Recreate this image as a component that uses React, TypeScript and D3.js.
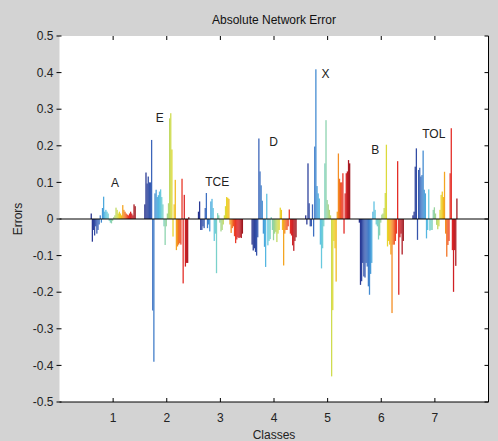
import React from 'react'
import * as d3 from 'd3'

// class ids on the x axis and the label drawn over each group
const classes = [1, 2, 3, 4, 5, 6, 7]
const classNames = ['A', 'E', 'TCE', 'D', 'X', 'B', 'TOL']
// where each label sits, in data units (x = class, y = error)
const labelX = [1.035, 1.87, 2.94, 3.99, 4.96, 5.89, 6.98]
const labelY = [0.098, 0.277, 0.102, 0.21, 0.396, 0.189, 0.233]

const yTicks = [-0.5, -0.4, -0.3, -0.2, -0.1, 0, 0.1, 0.2, 0.3, 0.4, 0.5]

// per-sample network error, one array per class
const errA = [0.015, -0.062, -0.03, -0.045, -0.02, -0.04, -0.03, -0.015, 0.01, -0.01, 0.03, 0.061, 0.02, 0.025, 0.02, 0.015, -0.005, -0.01, -0.012, -0.005, 0.005, 0.01, 0.031, 0.025, 0.015, 0.02, 0.015, 0.01, 0.038, 0.025, 0.02, 0.015, 0.012, 0.01, 0.015, 0.02, 0.015, 0.01, 0.04, 0.035]
const errE = [0.04, 0.127, 0.097, 0.116, 0.1, 0.1, 0.216, -0.25, -0.39, 0.07, 0.08, 0.06, 0.065, 0.075, 0.081, 0.06, 0.04, -0.02, -0.071, -0.02, 0.015, 0.043, 0.275, 0.289, 0.19, -0.048, 0.04, 0.107, -0.085, -0.075, -0.07, -0.066, -0.07, 0.11, -0.176, 0.066, -0.13, -0.12, -0.12, 0.005]
const errTCE = [0.02, 0.048, -0.03, -0.03, -0.02, -0.025, 0.03, 0.071, -0.025, -0.015, -0.034, 0.048, 0.055, 0.03, -0.06, -0.04, -0.148, 0.016, 0.01, -0.01, -0.034, -0.03, -0.015, 0.01, 0.035, 0.06, 0.058, 0.055, -0.015, -0.038, -0.025, -0.02, -0.047, -0.066, -0.056, -0.05, -0.052, -0.05, -0.052, -0.04]
const errD = [-0.07, -0.086, -0.08, -0.09, -0.1, -0.05, 0.22, 0.13, 0.092, 0.05, -0.04, -0.076, -0.131, 0.069, -0.072, -0.06, -0.055, 0.005, -0.03, -0.058, -0.04, -0.035, -0.063, -0.04, -0.03, 0.031, 0.025, -0.03, -0.127, -0.04, -0.03, -0.03, -0.02, 0.026, -0.04, -0.045, -0.072, -0.087, -0.06, -0.05]
const errX = [0.01, -0.015, 0.152, 0.043, -0.02, -0.02, 0.04, -0.048, 0.198, 0.409, 0.09, 0.07, 0.056, -0.07, -0.135, -0.08, -0.02, 0.152, 0.27, 0.052, 0.04, 0.025, 0.01, -0.43, -0.249, -0.06, -0.08, -0.171, 0.02, 0.179, 0.11, 0.1, 0.1, 0.125, -0.04, 0.07, 0.125, 0.13, 0.161, 0.152]
const errB = [-0.01, -0.18, -0.17, -0.12, -0.157, -0.16, -0.12, -0.13, -0.184, -0.207, -0.15, -0.12, 0.02, 0.048, 0.025, -0.015, -0.02, -0.056, -0.045, -0.01, 0.012, 0.015, 0.03, 0.071, 0.203, -0.075, -0.06, -0.07, -0.097, -0.257, -0.07, -0.07, -0.06, -0.04, 0.158, -0.207, -0.05, -0.04, -0.097, -0.06]
const errTOL = [0.01, 0.02, 0.143, 0.193, -0.057, 0.134, 0.14, 0.116, 0.12, 0.187, 0.08, 0.07, -0.053, -0.03, 0.081, -0.032, -0.03, -0.03, 0.025, 0.032, 0.015, -0.016, -0.028, -0.02, 0.025, 0.066, 0.075, 0.06, 0.129, -0.04, -0.103, -0.071, -0.06, 0.125, 0.248, -0.085, -0.199, -0.085, -0.128, 0.056]

const errors = [errA, errE, errTCE, errD, errX, errB, errTOL]

// washed-out jet, as the figure was saved
const palette = ['#26318c', '#3551a8', '#3f6cc0', '#45a6e0', '#6cd2e6', '#86d2b4', '#b4d87a', '#ede21f', '#f7a421', '#ee3a26', '#e01f26', '#9c1820']

const W = 498
const H = 441

export default function App() {
  const x = d3.scaleLinear().domain([0, 8]).range([59.5, 488.5])
  const y = d3.scaleLinear().domain([-0.5, 0.5]).range([402, 36])
  const n = errA.length
  const inner = d3.scaleBand<number>().domain(d3.range(n)).range([-0.42, 0.42]).padding(0)
  const bw = x(inner.bandwidth()) - x(0)
  const color = d3.scaleSequential(d3.interpolateRgbBasis(palette)).domain([0, n - 1])
  const font = 'Liberation Sans, Arial, sans-serif'
  const [x0, x1] = x.range()
  const [yb, yt] = y.range()

  return (
    <svg width={W} height={H} style={{ display: 'block' }}>
      <style>{'body{margin:0}'}</style>
      <rect width={W} height={H} fill="#d3d3d3" />
      <rect x={x0} y={yt} width={x1 - x0} height={yb - yt} fill="#fff" />

      {/* bars */}
      {errors.map((vals, g) => (
        <g key={g}>
          {vals.map((v, i) => (
            <rect
              key={i}
              x={x(classes[g] + (inner(i) as number))}
              y={y(Math.max(0, v))}
              width={bw + 0.15}
              height={Math.abs(y(v) - y(0))}
              fill={color(i)}
            />
          ))}
        </g>
      ))}

      {/* baseline */}
      <line x1={x0} x2={x1} y1={y(0)} y2={y(0)} stroke="#000" strokeWidth={1} />

      {/* axes box (left/top edges faint in the original) */}
      <line x1={x0} x2={x1} y1={yb} y2={yb} stroke="#000" />
      <line x1={x1} x2={x1} y1={yt} y2={yb} stroke="#000" />

      {classes.map(c => (
        <g key={c}>
          <line x1={x(c)} x2={x(c)} y1={yb} y2={yb - 4} stroke="#000" />
          <line x1={x(c)} x2={x(c)} y1={yt} y2={yt + 4} stroke="#000" />
          <text x={x(c)} y={422} textAnchor="middle" fontSize={12} fontFamily={font} fill="#222">{c}</text>
        </g>
      ))}

      {yTicks.map(t => (
        <g key={t}>
          <line x1={x0 - 3} x2={x0 + 2} y1={y(t)} y2={y(t)} stroke="#000" />
          <line x1={x1 - 4} x2={x1} y1={y(t)} y2={y(t)} stroke="#000" />
          <text x={x0 - 6} y={y(t)} dy="0.35em" textAnchor="end" fontSize={12} fontFamily={font} fill="#222">{String(t)}</text>
        </g>
      ))}

      {/* group labels */}
      {classNames.map((name, g) => (
        <text key={name} x={x(labelX[g])} y={y(labelY[g])} dy="0.35em" textAnchor="middle" fontSize={12} fontFamily={font} fill="#222">{name}</text>
      ))}

      <text x={(x0 + x1) / 2} y={24} textAnchor="middle" fontSize={12} fontFamily={font} fill="#111">Absolute Network Error</text>
      <text x={(x0 + x1) / 2} y={439} textAnchor="middle" fontSize={12} fontFamily={font} fill="#222">Classes</text>
      <text transform={`translate(22,${y(0)}) rotate(-90)`} textAnchor="middle" fontSize={12} fontFamily={font} fill="#222">Errors</text>
    </svg>
  )
}
